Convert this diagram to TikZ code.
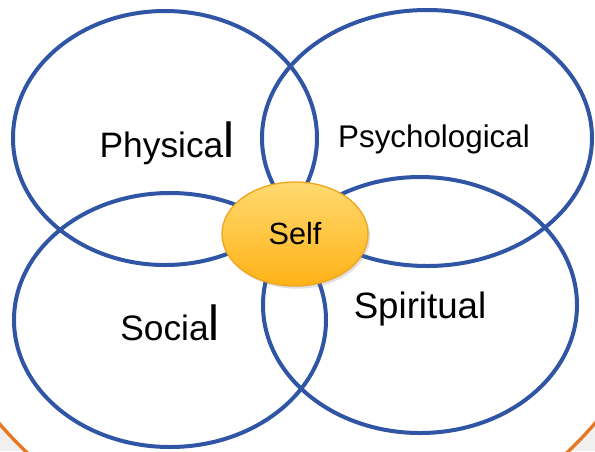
\documentclass[tikz,border=0pt]{standalone}
\usepackage{fontspec}
\setmainfont{Liberation Sans}
\usetikzlibrary{shapes.geometric,shadows}
\definecolor{ringblue}{RGB}{47,85,164}
\definecolor{rimorange}{RGB}{232,119,34}
\definecolor{pagegray}{RGB}{240,240,240}
\definecolor{selfrim}{RGB}{240,165,30}
\definecolor{selftop}{RGB}{255,218,112}
\definecolor{selfbot}{RGB}{255,178,22}
\tikzset{
  area/.style={ellipse, draw=ringblue, line width=3pt, inner sep=0pt},
  areatext/.style={anchor=base, inner sep=0pt, text=black},
  selfnode/.style={ellipse, draw=selfrim, line width=1pt, top color=selftop, bottom color=selfbot,
    drop shadow={shadow xshift=1.5pt, shadow yshift=-2pt, opacity=0.25},
    minimum width=109.5pt, minimum height=78pt, inner sep=0pt, font=\fontsize{23pt}{25pt}\selectfont}
}
\newcommand{\tallel}{{\fontsize{37pt}{37pt}\selectfont l}}
\begin{document}
\begin{tikzpicture}[x=0.75pt,y=-0.75pt]
        \useasboundingbox (0,0) rectangle (595,451);
        \clip (0,0) rectangle (595,451);
        \fill[pagegray] (0,0) rectangle (595,451);
        \draw[rimorange, line width=2.5pt, fill=white] (297,167) circle (393);

        \node[area, minimum width=228pt, minimum height=190.5pt] (physical) at (165,138) {};
        \node[area, minimum width=247.5pt, minimum height=192pt] (psycho) at (427,138) {};
        \node[area, minimum width=234pt, minimum height=190.5pt] (social) at (170,320) {};
        \node[area, minimum width=235.5pt, minimum height=192pt] (spirit) at (420,305) {};

        \node[areatext, font=\fontsize{26.5pt}{29pt}\selectfont] (tphys) at (167,157) {Physica\tallel};
        \node[areatext, font=\fontsize{23.5pt}{26pt}\selectfont] (tpsy) at (434,147) {Psychological};
        \node[areatext, font=\fontsize{26.5pt}{29pt}\selectfont] (tsoc) at (170,340) {Socia\tallel};
        \node[areatext, font=\fontsize{27.5pt}{30pt}\selectfont] (tspi) at (420,318) {Spiritual};

        \node[selfnode] (self) at (295,234) {Self};
      \end{tikzpicture}
\end{document}
